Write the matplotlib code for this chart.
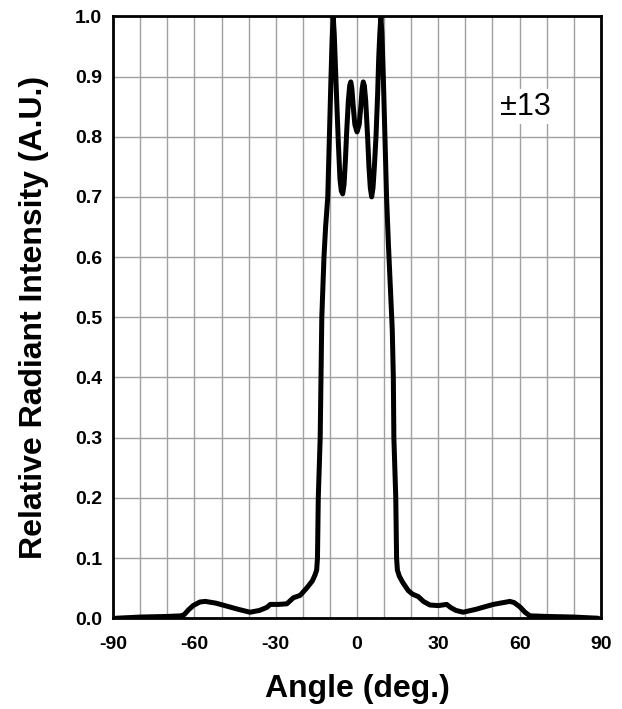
import matplotlib
matplotlib.use("Agg")
import matplotlib.pyplot as plt

plt.rcParams["font.family"] = ["Liberation Sans", "DejaVu Sans"]
plt.rcParams["axes.unicode_minus"] = False

# angle (deg) and relative radiant intensity
angle = [-89, -80, -70, -65, -63.8, -62.2, -60.5, -58, -56, -52, -48, -44, -39.5,
         -36, -33.3, -32, -29, -25.9, -23.5, -21, -18.6, -16.5, -15.5, -14.9, -14.6,
         -14.3, -13.6, -13.3, -13.0, -12.2, -11.6, -10.8, -10.2, -9.6, -9.2, -8.8,
         -8.4, -8.0, -7.5, -6.9, -6.3, -5.8, -5.3, -4.8, -4.3, -3.8, -3.2, -2.7,
         -2.3, -1.9, -1.4, -0.8, 0.0, 0.8, 1.4, 1.9, 2.3, 2.7, 3.2, 3.9, 4.4, 4.9,
         5.4, 5.9, 6.4, 7.0, 7.6, 8.0, 8.4, 8.8, 9.2, 9.7, 10.3, 10.9, 11.6, 12.0,
         13.0, 13.4, 13.6, 14.3, 14.6, 14.9, 15.6, 16.8, 18.9, 20.5, 22.6, 24.5,
         26.9, 30, 33.1, 34.5, 36.5, 39.2, 44, 50.3, 54, 56.4, 58, 60.1, 62,
         63.8, 70, 80, 89]
intensity = [0.0, 0.002, 0.003, 0.004, 0.006, 0.014, 0.021, 0.027, 0.028, 0.025,
             0.020, 0.015, 0.010, 0.013, 0.018, 0.023, 0.023, 0.024, 0.034, 0.038,
             0.050, 0.062, 0.072, 0.080, 0.10, 0.20, 0.30, 0.40, 0.50, 0.60, 0.65,
             0.70, 0.80, 0.90, 0.96, 1.0, 0.97, 0.92, 0.86, 0.79, 0.73, 0.71, 0.705,
             0.72, 0.76, 0.81, 0.86, 0.885, 0.891, 0.88, 0.85, 0.82, 0.808, 0.82,
             0.85, 0.88, 0.891, 0.885, 0.86, 0.80, 0.75, 0.715, 0.70, 0.715, 0.75,
             0.80, 0.87, 0.93, 0.97, 1.0, 0.97, 0.90, 0.80, 0.70, 0.62, 0.58, 0.48,
             0.40, 0.30, 0.20, 0.10, 0.080, 0.070, 0.060, 0.046, 0.040, 0.036, 0.028,
             0.022, 0.021, 0.023, 0.018, 0.013, 0.010, 0.015, 0.023, 0.026, 0.028,
             0.026, 0.019, 0.010, 0.004, 0.003, 0.002, 0.0]

xticks = [-90, -60, -30, 0, 30, 60, 90]
yticks = [0.0, 0.1, 0.2, 0.3, 0.4, 0.5, 0.6, 0.7, 0.8, 0.9, 1.0]
label_text = "±13"

fig = plt.figure(figsize=(6.22, 7.09), dpi=100)
ax = fig.add_axes([0.182, 0.128, 0.784, 0.849])

ax.set_xticks(range(-90, 91, 10), minor=True)
ax.grid(which="minor", axis="x", color="#a0a0a0", linewidth=1.0)
ax.grid(which="major", color="#a0a0a0", linewidth=1.0)
ax.set_axisbelow(True)

ax.plot(angle, intensity, color="black", linewidth=3.6, solid_capstyle="round",
        solid_joinstyle="round", zorder=3)

ax.set_xlim(-90, 90)
ax.set_ylim(0, 1.0)
ax.set_xticks(xticks)
ax.set_yticks(yticks)
ax.set_yticklabels([f"{v:.1f}" for v in yticks])
ax.tick_params(which="both", length=0, labelsize=14)
ax.tick_params(axis="x", pad=13)
ax.tick_params(axis="y", pad=8)
for lbl in ax.get_xticklabels() + ax.get_yticklabels():
    lbl.set_fontweight("bold")

for sp in ax.spines.values():
    sp.set_linewidth(2)
    sp.set_color("black")

ax.set_xlabel("Angle (deg.)", fontsize=23, fontweight="bold", labelpad=15)
ax.set_ylabel("Relative Radiant Intensity (A.U.)", fontsize=23, fontweight="bold", labelpad=19)

ax.text(62, 0.85, label_text, fontsize=22, ha="center", va="center", zorder=4,
        bbox=dict(facecolor="white", edgecolor="none", pad=2))

fig.savefig("out.png", dpi=100)
